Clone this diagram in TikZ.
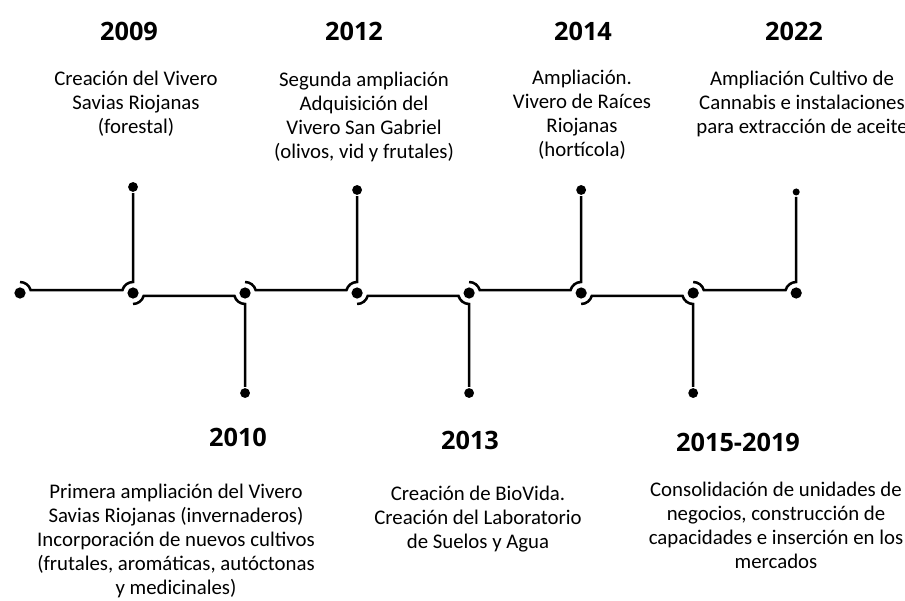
\documentclass[tikz,border=0pt]{standalone}
\usepackage{fontspec}
\setmainfont{Carlito}
\newfontfamily\yearfont{Open Sans}
\usepackage{tikz}
\tikzset{dot node/.style={circle,fill=black,minimum size=8pt,inner sep=0pt},
end node/.style={circle,fill=black,minimum size=7pt,inner sep=0pt},
year node/.style={font=\yearfont\bfseries\fontsize{18}{21}\selectfont},
text node/.style={align=center,font=\fontsize{14.8}{17}\selectfont},
}
\usetikzlibrary{positioning}

\begin{document}
\begin{tikzpicture}[x=0.025cm,y=0.025cm,line width=1.8pt,on grid]
\useasboundingbox (0,0) rectangle (905,600);
\clip (0,0) rectangle (905,600);

%% dots on the line
\node[dot node] (d0) at (20,307) {};
\node[dot node] (d1) [right = 2.825cm of d0] {};
\node[dot node] (d2) [right = 2.8cm of d1] {};
\node[dot node] (d3) [right = 2.8cm of d2] {};
\node[dot node] (d4) [right = 2.8cm of d3] {};
\node[dot node] (d5) [right = 2.8cm of d4] {};
\node[dot node] (d6) [right = 2.8cm of d5] {};
\node[dot node] (d7) [right = 2.575cm of d6] {};

%% branch ends
\node[end node] (t1) [above = 2.65cm of d1] {};
\node[end node] (b2) [below = 2.5cm of d2] {};
\node[end node] (t3) [above = 2.575cm of d3] {};
\node[end node] (b4) [below = 2.5cm of d4] {};
\node[end node] (t5) [above = 2.575cm of d5] {};
\node[end node] (b6) [below = 2.5cm of d6] {};
\node[end node,minimum size=5pt] (t7) [above = 2.525cm of d7] {};

%% years
\node[year node] (y2009) at (129,569) {2009};
\node[year node] (y2012) at (354,569) {2012};
\node[year node] (y2014) at (583,569) {2014};
\node[year node] (y2022) at (794,569) {2022};
\node[year node] (y2010) at (238,163) {2010};
\node[year node] (y2013) at (470,160) {2013};
\node[year node] (y2015) at (738,158) {2015-2019};

%% texts
\node[text node] (e2009) at (136,496) {Creación del Vivero\\Savias Riojanas\\(forestal)};
\node[text node] (e2012) at (364,483) {Segunda ampliación\\Adquisición del\\Vivero San Gabriel\\(olivos, vid y frutales)};
\node[text node] (e2014) at (582,485) {Ampliación.\\Vivero de Raíces\\Riojanas\\(hortícola)};
\node[text node] (e2022) at (802,496) {Ampliación Cultivo de\\Cannabis e instalaciones\\para extracción de aceite};
\node[text node] (e2010) at (176,59) {Primera ampliación del Vivero\\Savias Riojanas (invernaderos)\\Incorporación de nuevos cultivos\\(frutales, aromáticas, autóctonas\\y medicinales)};
\node[text node] (e2013) at (478,81) {Creación de BioVida.\\Creación del Laboratorio\\de Suelos y Agua};
\node[text node] (e2015) at (776,75) {Consolidación de unidades de\\negocios, construcción de\\capacidades e inserción en los\\mercados};

%% connectors
\draw ([shift={(90:11)}]d0.center) arc[start angle=90,end angle=15,radius=11]
  -- ([shift={(165:11)}]d1.center) arc[start angle=165,end angle=90,radius=11] -- (t1);
\draw ([shift={(-90:11)}]d1.center) arc[start angle=-90,end angle=-15,radius=11]
  -- ([shift={(-165:11)}]d2.center) arc[start angle=-165,end angle=-90,radius=11] -- (b2);
\draw ([shift={(90:11)}]d2.center) arc[start angle=90,end angle=15,radius=11]
  -- ([shift={(165:11)}]d3.center) arc[start angle=165,end angle=90,radius=11] -- (t3);
\draw ([shift={(-90:11)}]d3.center) arc[start angle=-90,end angle=-15,radius=11]
  -- ([shift={(-165:11)}]d4.center) arc[start angle=-165,end angle=-90,radius=11] -- (b4);
\draw ([shift={(90:11)}]d4.center) arc[start angle=90,end angle=15,radius=11]
  -- ([shift={(165:11)}]d5.center) arc[start angle=165,end angle=90,radius=11] -- (t5);
\draw ([shift={(-90:11)}]d5.center) arc[start angle=-90,end angle=-15,radius=11]
  -- ([shift={(-165:11)}]d6.center) arc[start angle=-165,end angle=-90,radius=11] -- (b6);
\draw ([shift={(90:11)}]d6.center) arc[start angle=90,end angle=15,radius=11]
  -- ([shift={(165:11)}]d7.center) arc[start angle=165,end angle=90,radius=11] -- (t7);
\end{tikzpicture}
\end{document}
